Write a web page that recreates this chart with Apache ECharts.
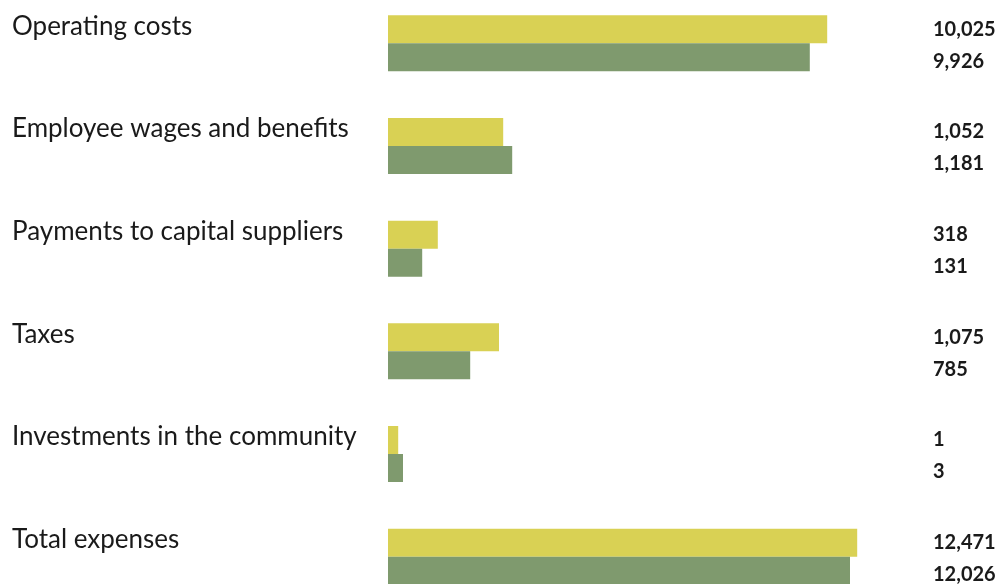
<!DOCTYPE html>
<html>
<head>
<meta charset="utf-8">
<script src="https://cdn.jsdelivr.net/npm/echarts@6/dist/echarts.min.js"></script>
<style>
  html, body { margin: 0; padding: 0; background: #fff; }
  #chart { width: 1002px; height: 584px; }
</style>
</head>
<body>
<div id="chart"></div>
<script>
const categories = [
  'Operating costs',
  'Employee wages and benefits',
  'Payments to capital suppliers',
  'Taxes',
  'Investments in the community',
  'Total expenses'
]

// figures printed at the right
const valuesA = ['10,025', '1,052', '318', '1,075', '1', '12,471']
const valuesB = ['9,926', '1,181', '131', '785', '3', '12,026']

// bar lengths as drawn in the picture (percent of the bar area)
const barsA = [73.2, 19.2, 8.3, 18.5, 1.7, 78.2]
const barsB = [70.3, 20.7, 5.7, 13.7, 2.5, 77.0]

const chart = echarts.init(document.getElementById('chart'), null, { renderer: 'canvas' })

const labelStyle = {
  show: true,
  position: [545, '50%'],
  align: 'left',
  verticalAlign: 'middle',
  color: '#1a1a1a',
  fontFamily: 'Lato',
  fontWeight: 'bold',
  fontSize: 20
}

chart.setOption({
  animation: false,
  grid: { left: 388, width: 600, top: -8, height: 616, outerBoundsMode: 'none' },
  xAxis: {
    type: 'value',
    min: 0,
    max: 100,
    show: false
  },
  yAxis: {
    type: 'category',
    data: categories,
    inverse: true,
    axisLine: { show: false },
    axisTick: { show: false },
    splitLine: { show: false },
    axisLabel: {
      align: 'left',
      margin: 376,
      verticalAlign: 'bottom',
      padding: [0, 0, 4, 0],
      color: '#1a1a1a',
      fontFamily: 'Lato',
      fontSize: 26
    }
  },
  series: [
    {
      type: 'bar',
      data: barsA,
      barWidth: 28,
      barGap: '0%',
      itemStyle: { color: '#D9D154' },
      label: {
        ...labelStyle,
        formatter: (p) => valuesA[p.dataIndex]
      }
    },
    {
      type: 'bar',
      data: barsB,
      barWidth: 28,
      barGap: '0%',
      itemStyle: { color: '#7F9A6E' },
      label: {
        ...labelStyle,
        offset: [0, 4],
        formatter: (p) => valuesB[p.dataIndex]
      }
    }
  ]
})

window.addEventListener('resize', () => chart.resize())
</script>
</body>
</html>
